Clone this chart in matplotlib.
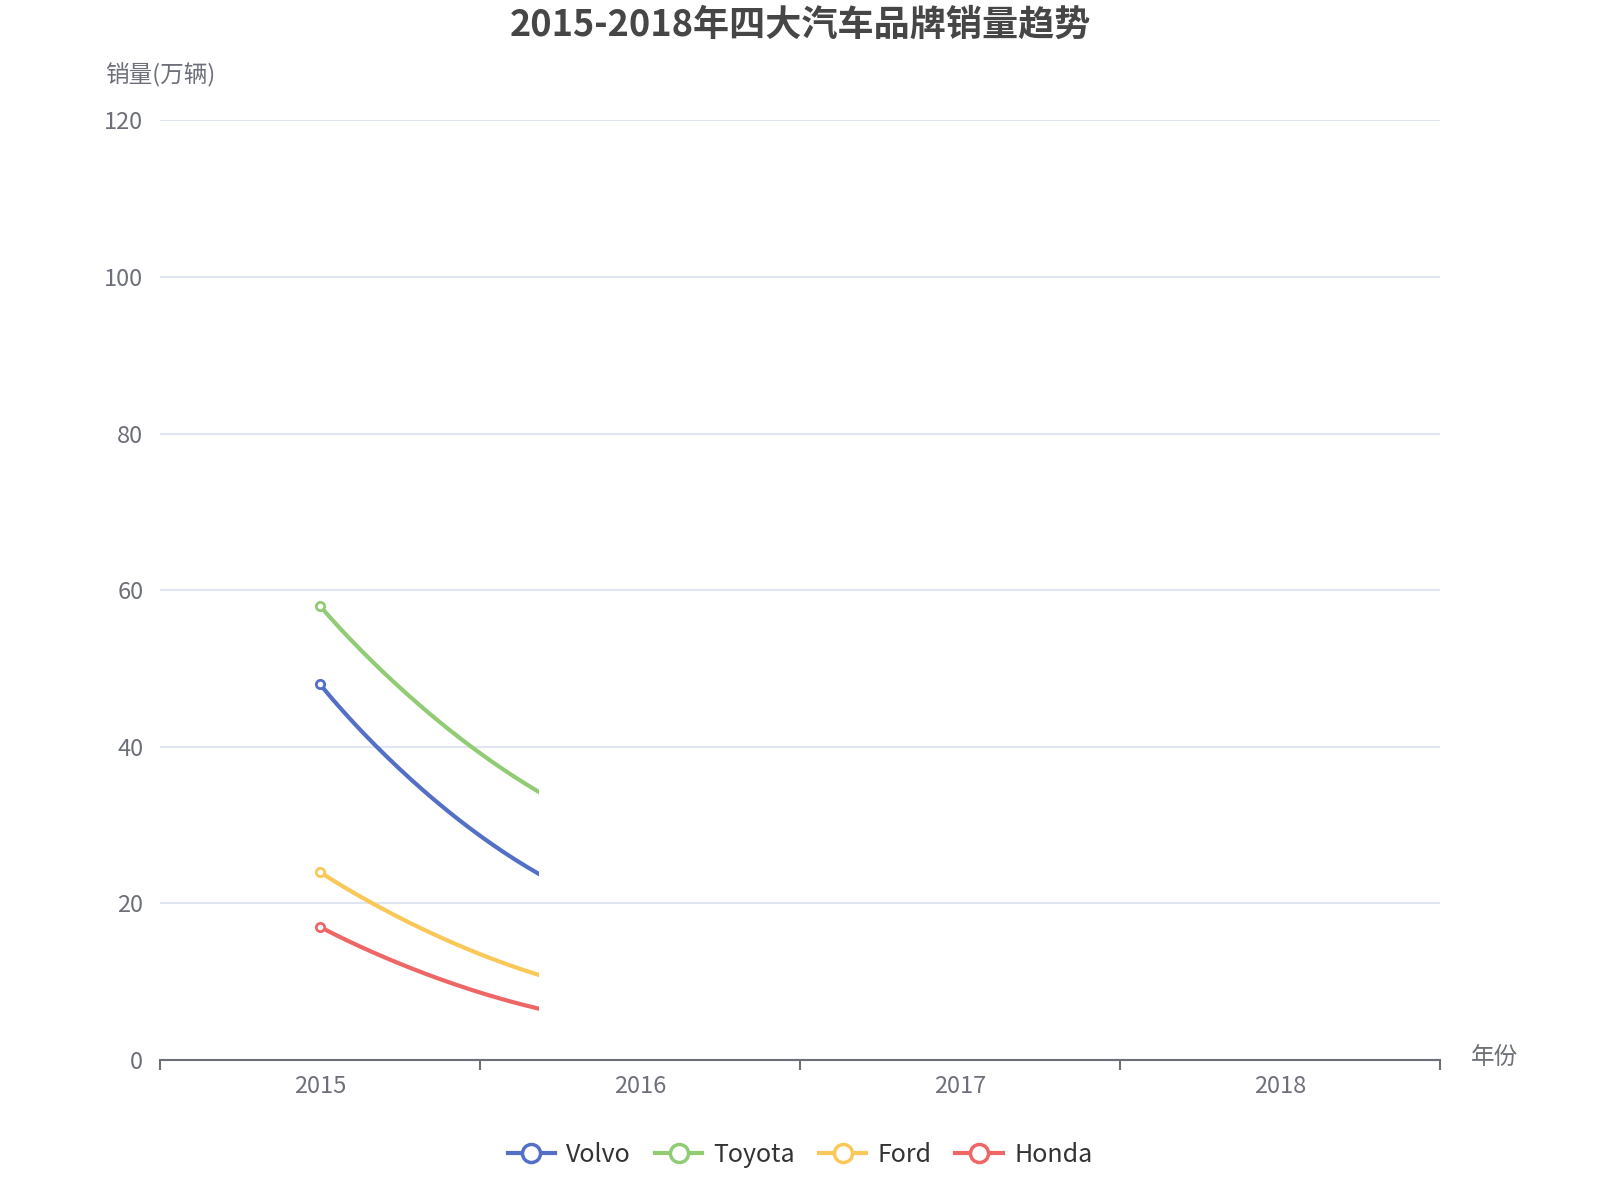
import numpy as np
import matplotlib
matplotlib.use("Agg")
import matplotlib.pyplot as plt
from matplotlib.patches import Rectangle
from matplotlib.lines import Line2D

plt.rcParams['font.family'] = ['Noto Sans CJK SC', 'DejaVu Sans']

# data
years = ['2015', '2016', '2017', '2018']
volvo = [48, 18.2, 13, 11]
toyota = [58, 28.2, 22, 19]
ford = [24, 8, 5.5, 4.5]
honda = [17, 4.5, 3, 2]
series_names = ['Volvo', 'Toyota', 'Ford', 'Honda']
series_values = [volvo, toyota, ford, honda]
colors = ['#5470c6', '#91cc75', '#fac858', '#ee6666']

# the chart was captured mid-animation: lines are revealed up to here (category units)
reveal_x = 0.684


def smooth_path(px, py, smooth=0.5, n=80):
    # echarts-like bezier smoothing, done in display coords
    out_x, out_y = [px[0]], [py[0]]
    cpx0, cpy0 = px[0], py[0]
    for i in range(1, len(px)):
        x, y = px[i], py[i]
        prevx, prevy = px[i - 1], py[i - 1]
        if i + 1 < len(px):
            nextx, nexty = px[i + 1], py[i + 1]
        else:
            nextx, nexty = x, y
        l0 = np.hypot(x - prevx, y - prevy)
        l1 = np.hypot(nextx - x, nexty - y)
        if l1 > 0:
            vx, vy = nextx - prevx, nexty - prevy
            ratio = l1 / (l0 + l1)
            ncx = x + vx * smooth * ratio
            ncy = y + vy * smooth * ratio
            ncx = max(min(ncx, max(nextx, x)), min(nextx, x))
            ncy = max(min(ncy, max(nexty, y)), min(nexty, y))
            vx, vy = ncx - x, ncy - y
            cpx1 = x - vx * l0 / l1
            cpy1 = y - vy * l0 / l1
            cpx1 = max(min(cpx1, max(prevx, x)), min(prevx, x))
            cpy1 = max(min(cpy1, max(prevy, y)), min(prevy, y))
            vx, vy = x - cpx1, y - cpy1
            ncx = x + vx * l1 / l0
            ncy = y + vy * l1 / l0
        else:
            vx, vy = x - prevx, y - prevy
            cpx1 = x - vx * smooth
            cpy1 = y - vy * smooth
            ncx, ncy = x, y
        t = np.linspace(0, 1, n)[1:]
        bx = (1 - t) ** 3 * prevx + 3 * (1 - t) ** 2 * t * cpx0 + 3 * (1 - t) * t ** 2 * cpx1 + t ** 3 * x
        by = (1 - t) ** 3 * prevy + 3 * (1 - t) ** 2 * t * cpy0 + 3 * (1 - t) * t ** 2 * cpy1 + t ** 3 * y
        out_x.extend(bx)
        out_y.extend(by)
        cpx0, cpy0 = ncx, ncy
    return np.array(out_x), np.array(out_y)


fig = plt.figure(figsize=(16, 12), dpi=100)
ax = fig.add_axes([0.1, 0.1167, 0.8, 0.783])
xs = np.arange(len(years))
ax.set_xlim(-0.5, len(years) - 0.5)
ax.set_ylim(0, 120)

# grid / axes styling
ax.set_yticks(np.arange(0, 121, 20))
ax.grid(axis='y', color='#E0E6F1', linewidth=1.5)
ax.set_axisbelow(True)
for side in ['top', 'right', 'left']:
    ax.spines[side].set_visible(False)
ax.spines['bottom'].set_color('#6E7079')
ax.spines['bottom'].set_linewidth(1.5)
ax.set_xticks(xs)
ax.set_xticklabels(years)
ax.set_xticks(np.arange(-0.5, len(years), 1), minor=True)
ax.tick_params(axis='x', which='major', length=0, pad=11, labelsize=17, labelcolor='#6E7079')
ax.tick_params(axis='x', which='minor', length=7, width=1.5, color='#6E7079')
ax.tick_params(axis='y', length=0, pad=12, labelsize=17, labelcolor='#6E7079')

clip = Rectangle((-0.5, -10), 0.5 + reveal_x, 140, transform=ax.transData)

handles = []
for name, vals, c in zip(series_names, series_values, colors):
    disp = ax.transData.transform(np.column_stack([xs, vals]))
    sx, sy = smooth_path(disp[:, 0], disp[:, 1])
    pts = ax.transData.inverted().transform(np.column_stack([sx, sy]))
    ln, = ax.plot(pts[:, 0], pts[:, 1], color=c, linewidth=3, solid_capstyle='butt', zorder=3)
    ln.set_clip_path(clip)
    mk, = ax.plot(xs, vals, linestyle='none', marker='o', markersize=6,
                  markerfacecolor='white', markeredgecolor=c, markeredgewidth=2, zorder=4)
    mk.set_clip_path(clip)
    handles.append(Line2D([], [], color=c, linewidth=3, marker='o', markersize=13,
                          markerfacecolor='white', markeredgecolor=c, markeredgewidth=2.5))

fig.text(0.5, 0.979, '2015-2018年四大汽车品牌销量趋势', ha='center', va='center',
         fontsize=26, fontweight='bold', color='#464646')
fig.text(0.1, 0.937, '销量(万辆)', ha='center', va='center', fontsize=17, color='#6E7079')
fig.text(0.919, 1 - 1057 / 1200, '年份', ha='left', va='center', fontsize=17, color='#6E7079')

fig.legend(handles, series_names, loc='center', bbox_to_anchor=(0.5, 0.0375), ncol=4,
           frameon=False, fontsize=18, handlelength=1.9, handletextpad=0.45,
           columnspacing=0.95, labelcolor='#333333')

fig.savefig('out.png', dpi=100, facecolor='white')
